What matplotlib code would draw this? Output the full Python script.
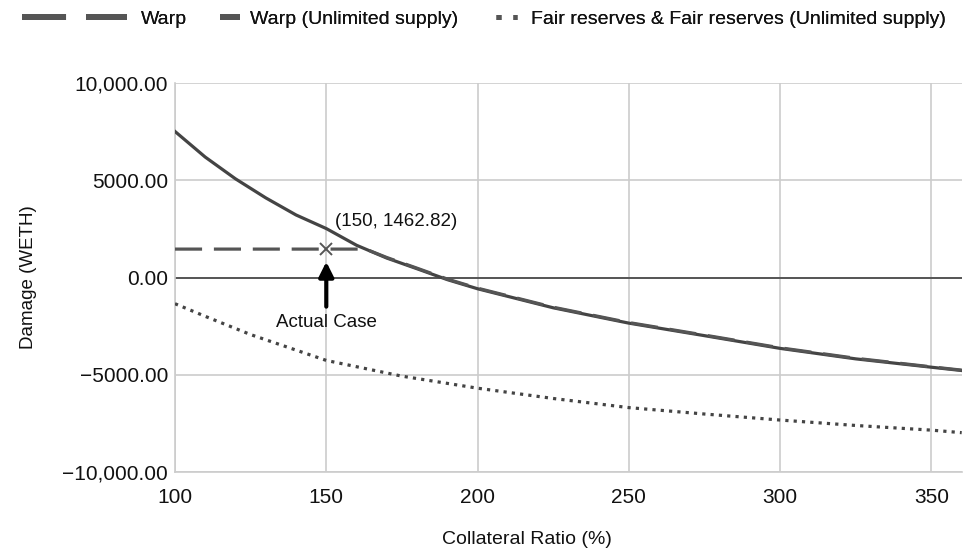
import matplotlib
matplotlib.use('Agg')
import matplotlib.pyplot as plt
from matplotlib.lines import Line2D

plt.rcParams['font.family'] = ['Liberation Sans', 'DejaVu Sans']
plt.rcParams['lines.scale_dashes'] = False

# Datos
ratio = [100, 110, 120, 130, 140, 150, 160, 170, 180, 190, 200, 225, 250,
         275, 300, 325, 350, 360]
warp_ilimitado = [7520, 6200, 5080, 4100, 3220, 2520, 1660, 1000, 450, -110,
                  -580, -1560, -2350, -2995, -3650, -4190, -4620, -4790]

ratio_warp = [100, 125, 150, 163, 170, 180, 190, 200, 225, 250, 275, 300,
              325, 350, 360]
warp = [1462.82, 1462.82, 1462.82, 1462.82, 1030, 480, -80, -550, -1530,
        -2320, -2965, -3620, -4160, -4600, -4770]

ratio_fair = [100, 110, 125, 150, 175, 200, 225, 250, 275, 300, 325, 350,
              360]
fair = [-1350, -2000, -2940, -4270, -5080, -5700, -6230, -6700, -7030,
        -7340, -7620, -7860, -7990]

caso_x = 150
caso_y = 1462.82

xticks = [100, 150, 200, 250, 300, 350]
yticks = [10000, 5000, 0, -5000, -10000]
yticklabels = ['10,000.00', '5000.00', '0.00', '\u22125000.00',
               '\u221210,000.00']

fig = plt.figure(figsize=(9.68, 5.59), dpi=100)
ax = fig.add_axes([175/968, 1-471.7/559, (961.7-175)/968, (471.7-83.3)/559])

gris = '#cccccc'
ax.grid(True, color=gris, lw=1.2)
ax.set_axisbelow(True)
for lado in ['top', 'right']:
    ax.spines[lado].set_visible(False)
for lado in ['left', 'bottom']:
    ax.spines[lado].set_color(gris)
    ax.spines[lado].set_linewidth(1.2)

ax.axhline(0, color='#555555', lw=1.4, zorder=2)

ax.plot(ratio_fair, fair, color='#444444', lw=2.3,
        linestyle=(0, (2.3, 3.7)), zorder=3)
ax.plot(ratio, warp_ilimitado, color='#444444', lw=2.3, zorder=3)
ax.plot(ratio_warp, warp, color='#555555', lw=2.3,
        linestyle=(0, (19.5, 8.5)), zorder=4)

ax.plot([caso_x], [caso_y], marker='x', ms=9, mew=1.4, color='#555555',
        linestyle='none', zorder=5)

ax.text(152.8, 2900, '(150, 1462.82)', fontsize=13.5, ha='left',
        va='center', color='#111111')
ax.annotate('', xy=(150, 810), xytext=(150, -1500),
            arrowprops=dict(arrowstyle='-|>', lw=3, color='black',
                            mutation_scale=22, shrinkA=0, shrinkB=0))
ax.text(150, -2330, 'Actual Case', fontsize=13.5, ha='center', va='center',
        color='#111111')

ax.set_xlim(100, 360)
ax.set_ylim(-10000, 10000)
ax.set_xticks(xticks)
ax.set_yticks(yticks)
ax.set_yticklabels(yticklabels)
ax.tick_params(length=0, labelsize=15, colors='#111111')
ax.tick_params(axis='y', pad=5)
ax.tick_params(axis='x', pad=12)

fig.text(527/968, 1-540/559, 'Collateral Ratio (%)', fontsize=14,
         ha='center', va='center', color='#111111')
ax.set_ylabel('Damage (WETH)', fontsize=13.5, labelpad=18, color='#111111')

# Leyenda en la parte superior, tres bloques separados
h1 = Line2D([], [], color='#555555', lw=4.3, linestyle=(0, (31.7, 14.4)),
            solid_capstyle='butt', dash_capstyle='butt')
h2 = Line2D([], [], color='#555555', lw=4.3, solid_capstyle='butt')
h3 = Line2D([], [], color='#555555', lw=3.6, linestyle=(0, (3.6, 8.6)),
            dash_capstyle='butt')

entradas = [(h1, 'Warp', 22, 5.4, 0.7),
            (h2, 'Warp (Unlimited supply)', 220, 1.05, 0.5),
            (h3, 'Fair reserves & Fair reserves (Unlimited supply)', 496,
             1.1, 0.7)]
for h, txt, xpix, largo, sep in entradas:
    leg = fig.legend([h], [txt], loc='center left',
                     bbox_to_anchor=(xpix/968, 1-19/559), frameon=False,
                     borderpad=0, borderaxespad=0, handlelength=largo,
                     handletextpad=sep, fontsize=14)
    for t in leg.get_texts():
        t.set_color('#111111')
    fig.add_artist(leg)

fig.savefig('out.png', dpi=100)
